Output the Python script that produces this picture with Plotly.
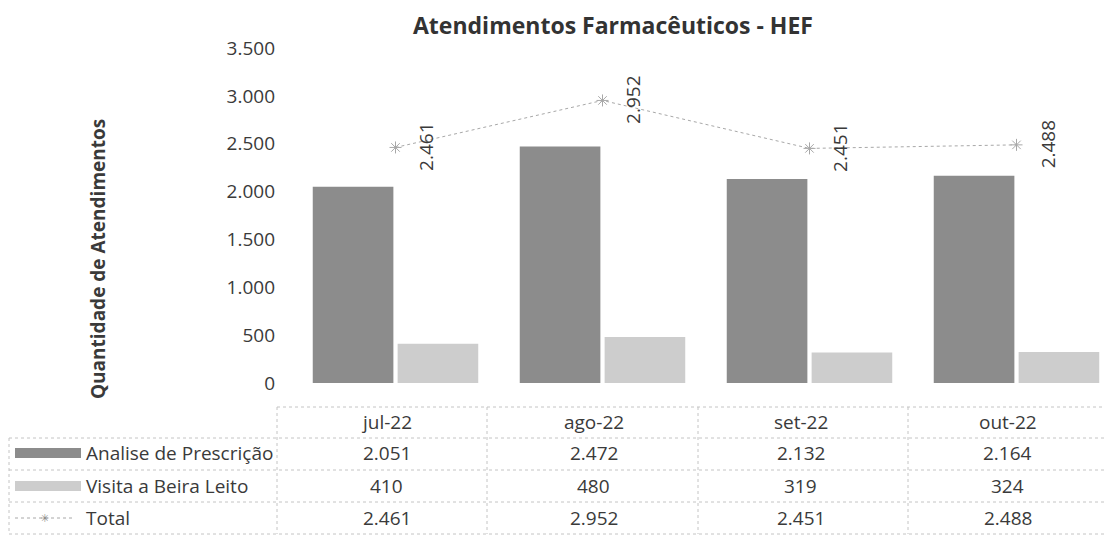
import plotly.graph_objects as go

# chart data
meses = ["jul-22", "ago-22", "set-22", "out-22"]
analise_prescricao = [2051, 2472, 2132, 2164]
visita_beira_leito = [410, 480, 319, 324]
total = [2461, 2952, 2451, 2488]

W, H = 1112, 545
OFF = 8  # page body margin
FONT = "Open Sans"
TXT = "#3a3a3a"
DARK = "#8c8c8c"
LIGHT = "#cdcdcd"
LINE = "#a8a8a8"


def py(px):
    # pixel row on screen -> paper y
    return 1 - (px - OFF) / H


def px_(x):
    # pixel column on screen -> paper x
    return (x - OFF) / W


def fmt(v):
    return f"{v:,}".replace(",", ".")


def txt(x, y, text, xref="paper", size=19, **kw):
    d = dict(x=x, y=y, xref=xref, yref="paper", text=text, showarrow=False,
             xanchor="center", yanchor="middle",
             font=dict(family=FONT, size=size, color=TXT))
    d.update(kw)
    return d


fig = go.Figure()
fig.add_trace(go.Bar(x=meses, y=analise_prescricao, name="Analise de Prescrição",
                     marker=dict(color=DARK, line=dict(width=0))))
fig.add_trace(go.Bar(x=meses, y=visita_beira_leito, name="Visita a Beira Leito",
                     marker=dict(color=LIGHT, line=dict(width=0))))
fig.add_trace(go.Scatter(x=meses, y=total, name="Total", mode="lines+markers",
                         line=dict(color=LINE, width=1, dash="dot"),
                         marker=dict(symbol="asterisk-open", size=10,
                                     line=dict(color="#8a8a8a", width=1))))

annotations = []
shapes = []

# rotated value labels for the total line
for m, t in zip(meses, total):
    annotations.append(dict(x=m, y=t, xref="x", yref="y", text=fmt(t),
                            textangle=-90, showarrow=False, xshift=31,
                            xanchor="center", yanchor="middle",
                            font=dict(family=FONT, size=19, color=TXT)))

# data table below the plot
row_y = [422, 453, 486, 518]
rows = [analise_prescricao, visita_beira_leito, total]
for i, m in enumerate(meses):
    annotations.append(txt(m, py(row_y[0]), m, xref="x", xshift=-9))
    for r, vals in enumerate(rows):
        annotations.append(txt(m, py(row_y[r + 1]), fmt(vals[i]), xref="x", xshift=-9))

labels = ["Analise de Prescrição", "Visita a Beira Leito", "Total"]
for r, lab in enumerate(labels):
    annotations.append(txt(px_(84), py(row_y[r + 1]), lab, xanchor="left"))

# legend keys in the table
for r, col in enumerate([DARK, LIGHT]):
    yc = row_y[r + 1]
    shapes.append(dict(type="rect", xref="paper", yref="paper",
                       x0=px_(15), x1=px_(81), y0=py(yc + 5), y1=py(yc - 5),
                       fillcolor=col, line=dict(width=0)))
shapes.append(dict(type="line", xref="paper", yref="paper",
                   x0=px_(15), x1=px_(72), y0=py(row_y[3]), y1=py(row_y[3]),
                   line=dict(color=LINE, width=1, dash="dot")))
annotations.append(txt(px_(44), py(row_y[3]), "✳",
                       font=dict(family="DejaVu Sans", size=11, color="#8a8a8a")))

# table grid
grid = dict(color="#c4c4c4", width=1, dash="dot")
hlines = [407, 438, 470, 502, 534]
vlines = [277, 487, 698, 908]
shapes.append(dict(type="line", xref="paper", yref="paper", x0=px_(vlines[0]), x1=1,
                   y0=py(hlines[0]), y1=py(hlines[0]), line=grid))
for yl in hlines[1:]:
    shapes.append(dict(type="line", xref="paper", yref="paper", x0=px_(9), x1=1,
                       y0=py(yl), y1=py(yl), line=grid))
for xv in vlines:
    shapes.append(dict(type="line", xref="paper", yref="paper", x0=px_(xv), x1=px_(xv),
                       y0=py(hlines[0]), y1=py(hlines[-1]), line=grid))
shapes.append(dict(type="line", xref="paper", yref="paper", x0=px_(9), x1=px_(9),
                   y0=py(hlines[1]), y1=py(hlines[-1]), line=grid))

# axis title
annotations.append(txt(px_(98), py(259), "<b>Quantidade de Atendimentos</b>",
                       size=19, textangle=-90))

# chart title
annotations.append(txt(px_(613), py(25), "<b>Atendimentos Farmacêuticos - HEF</b>",
                       font=dict(family=FONT, size=23, color="#333333")))

fig.update_layout(
    template="none",
    width=W, height=H, autosize=False,
    margin=dict(l=0, r=0, t=0, b=0, pad=0),
    paper_bgcolor="white", plot_bgcolor="white",
    separators=",.",
    showlegend=False,
    barmode="group", bargap=0.18, bargroupgap=0.05,
    xaxis=dict(domain=[px_(292), 1.0], showticklabels=False, showline=False,
               showgrid=False, zeroline=False, range=[-0.5, 3.5], ticks=""),
    yaxis=dict(domain=[py(383), py(48)], range=[0, 3500], dtick=500,
               tickformat=",d", showgrid=False, zeroline=False, showline=False,
               ticks="", ticklabelstandoff=16,
               tickfont=dict(family=FONT, size=19, color=TXT)),
    annotations=annotations,
    shapes=shapes,
)

fig.write_html("out.html")
